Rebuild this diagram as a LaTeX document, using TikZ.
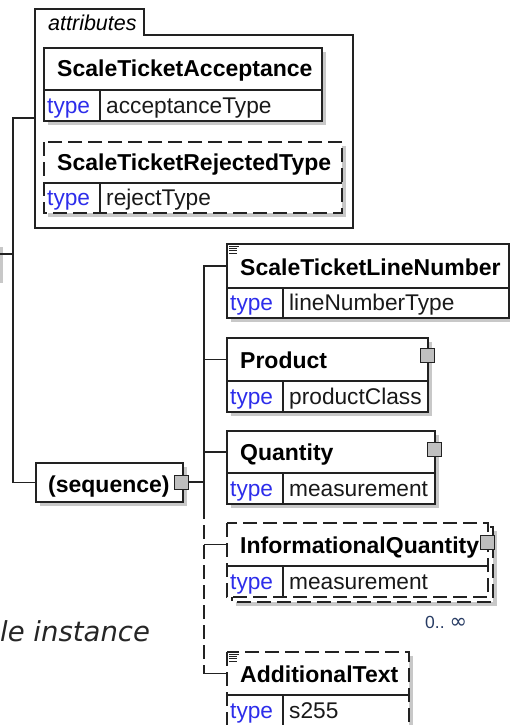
\documentclass[tikz,border=0pt]{standalone}
\usepackage{fontspec}
\setmainfont{Liberation Sans}
\newfontfamily\vfont{DejaVu Sans}
\definecolor{lnc}{RGB}{34,34,34}
\definecolor{shc}{RGB}{200,200,200}
\definecolor{typc}{RGB}{45,45,235}
\definecolor{occc}{RGB}{40,60,100}
\tikzset{
 ln/.style={draw=lnc, line width=1.2pt},
 dsh/.style={ln, dash pattern=on 14pt off 6pt},
 hbox/.style={anchor=north west, inner sep=0pt, outer sep=0pt, fill=white},
 ttl/.style={anchor=base west, inner sep=0pt, font=\fontsize{23}{26}\selectfont\bfseries, text=black},
 typ/.style={anchor=base west, inner sep=0pt, font=\fontsize{22.7}{26}\selectfont, text=typc},
 val/.style={anchor=base west, inner sep=0pt, font=\fontsize{22.7}{26}\selectfont, text=black!90},
 sq/.style={draw=lnc, line width=1pt, fill=black!25, minimum size=14pt, inner sep=0pt},
 shd/.style={fill=shc},
}
\newcommand\Elem[9]{%
  \node[hbox, minimum width=#4pt, minimum height=#5pt] (#1) at (#2,#3) {};
  \node[hbox, minimum width=#4pt, minimum height=#6pt] (#1-t) at (#1.south west) {};
  \draw[#9] (#1.north west) rectangle (#1-t.south east);
  \draw[ln] (#1.south west) -- (#1.south east);
  \draw[ln] ([xshift=56pt]#1-t.north west) -- ([xshift=56pt]#1-t.south west);
  \node[ttl] (#1-n) at ([shift={(13pt,13pt)}]#1.south west) {#7};
  \node[typ] (#1-k) at ([shift={(3pt,8pt)}]#1-t.south west) {type};
  \node[val] (#1-v) at ([shift={(62pt,8pt)}]#1-t.south west) {#8};
}
\newcommand\Shd[4]{\fill[shd] (#1+4,#2+4) rectangle (#3+4,#4+4);}
\newcommand\DocIcon[2]{%
  \draw[lnc, line width=0.8pt] (#1+2,#2+2) -- (#1+12,#2+2)
    (#1+2,#2+4.3) -- (#1+10,#2+4.3) (#1+2,#2+6.6) -- (#1+10,#2+6.6)
    (#1+2,#2+8.9) -- (#1+10,#2+8.9);}
\begin{document}
\begin{tikzpicture}[x=1pt,y=-1pt]
\useasboundingbox (0,0) rectangle (510,725);
\fill[white] (0,0) rectangle (510,725);

% cut-off node shadow at the left edge
\fill[shd] (0,247) rectangle (3,283);

% attributes container
\node[inner sep=0pt, outer sep=0pt, anchor=north west, minimum width=318pt, minimum height=193pt] (attr) at (35,35) {};
\draw[ln] (35,228) -- (35,9) -- (144,9) -- (144,35) -- (353,35) -- (353,228) -- cycle;
\node[anchor=base west, inner sep=0pt, font=\fontsize{21.5}{24}\selectfont\itshape] (attrl) at (48,31) {attributes};

\Shd{44}{48}{322}{121}
\Elem{sca}{44}{48}{278}{42}{31}{ScaleTicketAcceptance}{acceptanceType}{ln}
\Shd{44}{142}{342}{213}
\Elem{srt}{44}{142}{298}{41}{30}{ScaleTicketRejectedType}{rejectType}{dsh}

% sequence
\Shd{36}{463}{183}{502}
\node[hbox, draw=lnc, line width=1.2pt, minimum width=147pt, minimum height=39pt] (seq) at (36,463) {};
\node[ttl] (seq-n) at (48,492) {(sequence)};
\node[sq] (seq-s) at (181.5,482) {};

% children
\Shd{227}{244}{509}{318}
\Elem{lnum}{227}{244}{282}{44}{30}{ScaleTicketLineNumber}{lineNumberType}{ln}
\DocIcon{227}{244}

\Shd{227}{338}{428}{412}
\Elem{prod}{227}{338}{201}{43}{31}{Product}{productClass}{ln}
\node[sq] (prod-s) at (427.5,355.5) {};

\Shd{227}{431}{435}{504}
\Elem{qty}{227}{431}{208}{42}{31}{Quantity}{measurement}{ln}
\node[sq] (qty-s) at (434.5,449.5) {};

\fill[shd] (236,531) rectangle (497,606);
\draw[dsh, fill=white] (232,527) rectangle (493,602);
\Elem{infq}{227}{523}{261}{43}{31}{InformationalQuantity}{measurement}{dsh}
\node[sq] (infq-s) at (487,542) {};
\node[anchor=base west, inner sep=0pt, font=\fontsize{17.5}{20}\selectfont, text=occc] (occ) at (425,628) {0..\hspace{5pt}{\vfont\fontsize{21}{20}\selectfont ∞}};

\Shd{227}{652}{409}{726}
\Elem{addt}{227}{652}{182}{43}{31}{AdditionalText}{s255}{dsh}
\DocIcon{227}{652}

\node[anchor=base west, inner sep=0pt, font=\vfont\itshape\fontsize{27.5}{30}\selectfont, text=black!85] (inst) at (0,641) {le instance};

% connectors
\coordinate (root) at (0,254);
\coordinate (spl) at (13,254);
\coordinate (bus) at (204,482);
\coordinate (busEnd) at (204,505);
\draw[ln] (root) -- (spl);
\draw[ln] ([yshift=-83pt]attr.north west) -| (spl) |- (seq.west);
\draw[ln] (seq-s.east) -- (seq-s.east -| bus);
\draw[ln] (lnum.west) -| (busEnd);
\draw[ln] (prod.west) -- (prod.west -| bus);
\draw[ln] (qty.west) -- (qty.west -| bus);
\draw[dsh] (busEnd) -- (busEnd |- addt.west);
\draw[ln] (infq.west -| bus) -- (infq.west);
\draw[ln] (addt.west -| bus) -- (addt.west);
\end{tikzpicture}
\end{document}
